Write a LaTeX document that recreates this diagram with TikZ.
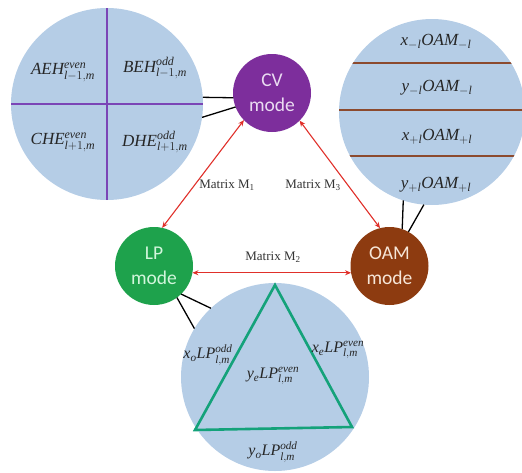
\documentclass[tikz,border=0pt]{standalone}
\usepackage{fontspec}
\setmainfont{Liberation Serif}
\newfontfamily\modefont{Carlito}
\usetikzlibrary{arrows.meta}
\newcommand\tmi[1]{\mathit{#1}}
\definecolor{discblue}{HTML}{B5CDE6}
\definecolor{cvpurple}{HTML}{7D2E9C}
\definecolor{cvtext}{HTML}{EADCF2}
\definecolor{lpgreen}{HTML}{1EA24C}
\definecolor{lptext}{HTML}{D2F6DC}
\definecolor{oambrown}{HTML}{8D3B10}
\definecolor{oamtext}{HTML}{F6E6D8}
\definecolor{divpurple}{HTML}{7B45B6}
\definecolor{stripe}{HTML}{8C4A2E}
\definecolor{trigreen}{HTML}{14A27A}
\definecolor{arrowred}{HTML}{E0302A}
\tikzset{
  disc/.style={circle, fill=discblue, inner sep=0pt, outer sep=0pt},
  modenode/.style={circle, minimum size=78pt, inner sep=0pt, outer sep=0pt, align=center,
    font=\modefont\fontsize{19.5}{25}\selectfont},
  mathlbl/.style={inner sep=0pt, font=\fontsize{17}{20}\selectfont, text=black!85},
  lplbl/.style={inner sep=0pt, font=\fontsize{16}{19}\selectfont, text=black!85},
  matlbl/.style={inner sep=0pt, font=\fontsize{13}{15}\selectfont, text=black!80},
  link/.style={black, line width=1.3pt},
  conv/.style={arrowred, line width=1.1pt, {Stealth[length=6pt,width=5pt]}-{Stealth[length=6pt,width=5pt]}},
  divline/.style={divpurple, line width=1.6pt},
  stripeline/.style={stripe, line width=2.6pt}
}
\begin{document}
\begin{tikzpicture}[x=1pt,y=-1pt]
\useasboundingbox (0,0) rectangle (522,472);

% discs
\node[disc, minimum size=192pt] (cvin) at (107,104) {};
\node[disc, minimum size=186pt] (oamin) at (432,112) {};
\node[disc, minimum size=188pt] (lpin) at (275,377) {};

% CV disc dividers
\draw[divline] (cvin.north) -- (cvin.south);
\draw[divline] (cvin.west) -- (cvin.east);

% OAM disc stripes
\begin{scope}
\clip (432,112) circle[radius=93pt];
\draw[stripeline] (330,63) -- (530,63);
\draw[stripeline] (330,110) -- (530,110);
\draw[stripeline] (330,156) -- (530,156);
\end{scope}

% LP triangle
\draw[trigreen, line width=2.6pt, line join=miter] (275,285) -- (195,430) -- (352,427) -- cycle;

% mode nodes
\node[modenode, fill=cvpurple, text=cvtext] (cv) at (272,93) {CV\\mode};
\node[modenode, fill=lpgreen, text=lptext] (lp) at (154,266) {LP\\mode};
\node[modenode, fill=oambrown, text=oamtext] (oam) at (389.5,266) {OAM\\mode};

% links
\draw[link] (cvin.4) -- (cv.187);
\draw[link] (cvin.352) -- (cv.201);
\draw[link] (oamin.252) -- (oam.71);
\draw[link] (oamin.265) -- (oam.61);
\draw[link] (lpin.133) -- (lp.314);
\draw[link] (lpin.149) -- (lp.306);

% conversions
\draw[conv] (cv.224) -- (lp.78);
\draw[conv] (cv.315) -- (oam.104);
\draw[conv] (lp.350) -- (oam.190);

\node[matlbl] (m1) at (227,185) {Matrix M\textsubscript{1}};
\node[matlbl] (m3) at (313,185) {Matrix M\textsubscript{3}};
\node[matlbl] (m2) at (273,257) {Matrix M\textsubscript{2}};

% CV labels
\node[mathlbl] (aeh) at (63,72) {$\tmi{AEH}^{\tmi{even}}_{\tmi{l}-1,\tmi{m}}$};
\node[mathlbl] (beh) at (155,68) {$\tmi{BEH}^{\tmi{odd}}_{\tmi{l}-1,\tmi{m}}$};
\node[mathlbl] (che) at (63,142) {$\tmi{CHE}^{\tmi{even}}_{\tmi{l}+1,\tmi{m}}$};
\node[mathlbl] (dhe) at (155,142) {$\tmi{DHE}^{\tmi{odd}}_{\tmi{l}+1,\tmi{m}}$};

% OAM labels
\node[mathlbl] (o1) at (436,42) {$\tmi{x}_{-\tmi{l}}\tmi{OAM}_{-\tmi{l}}$};
\node[mathlbl] (o2) at (437,88) {$\tmi{y}_{-\tmi{l}}\tmi{OAM}_{-\tmi{l}}$};
\node[mathlbl] (o3) at (437,137) {$\tmi{x}_{+\tmi{l}}\tmi{OAM}_{+\tmi{l}}$};
\node[mathlbl] (o4) at (436,185) {$\tmi{y}_{+\tmi{l}}\tmi{OAM}_{+\tmi{l}}$};

% LP labels
\node[lplbl] (l1) at (208,355) {$\tmi{x}_{\tmi{o}}\tmi{LP}^{\tmi{odd}}_{\tmi{l},\tmi{m}}$};
\node[lplbl] (l2) at (338,350) {$\tmi{x}_{\tmi{e}}\tmi{LP}^{\tmi{even}}_{\tmi{l},\tmi{m}}$};
\node[lplbl] (l3) at (273,376) {$\tmi{y}_{\tmi{e}}\tmi{LP}^{\tmi{even}}_{\tmi{l},\tmi{m}}$};
\node[lplbl] (l4) at (273,452) {$\tmi{y}_{\tmi{o}}\tmi{LP}^{\tmi{odd}}_{\tmi{l},\tmi{m}}$};
\end{tikzpicture}
\end{document}
